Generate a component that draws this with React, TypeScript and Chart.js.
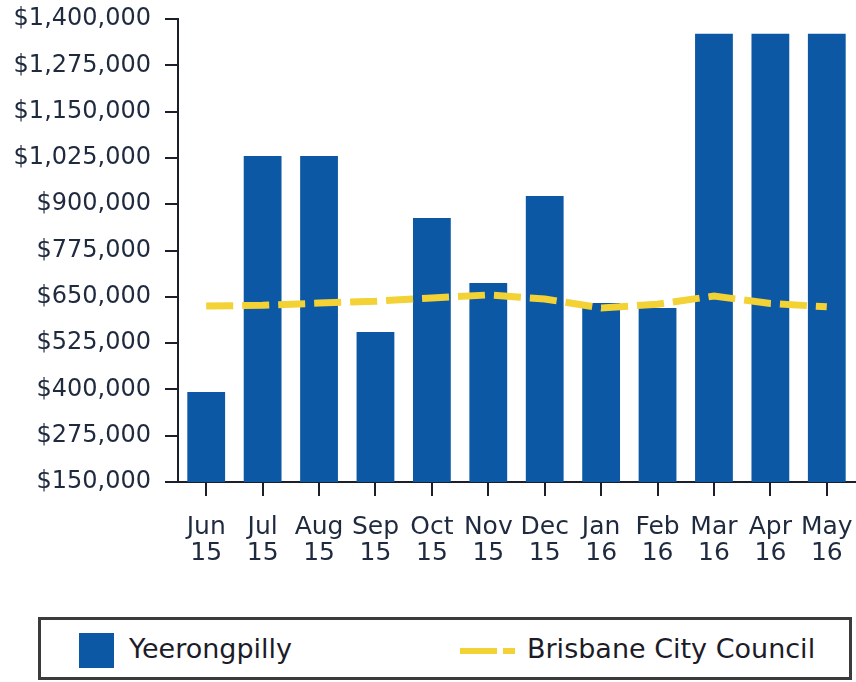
import React, { useEffect, useRef } from "react";
import { Chart, registerables } from "chart.js";

Chart.register(...registerables);

const categories: string[][] = [
  ["Jun", "15"], ["Jul", "15"], ["Aug", "15"], ["Sep", "15"], ["Oct", "15"], ["Nov", "15"],
  ["Dec", "15"], ["Jan", "16"], ["Feb", "16"], ["Mar", "16"], ["Apr", "16"], ["May", "16"],
];
const yeerongpilly: number[] = [
  393000, 1030000, 1030000, 555000, 863000, 687000, 922000, 633000, 620000, 1360000, 1360000, 1360000,
];
const brisbane: number[] = [
  625000, 627000, 633000, 638000, 647000, 655000, 644000, 620000, 630000, 652000, 632000, 623000,
];
const yMin = 150000;
const yMax = 1400000;
const yStep = 125000;

const BAR_COLOR = "#0c58a4";
const LINE_COLOR = "#f2d234";
const TEXT_COLOR = "#1f2a3f";
const AXIS_COLOR = "#1a1f2b";
const FONT = "'DejaVu Sans', sans-serif";

export default function App() {
  const ref = useRef<HTMLCanvasElement | null>(null);
  useEffect(() => {
    if (!ref.current) return;
    const chart = new Chart(ref.current, {
      type: "bar",
      data: {
        labels: categories,
        datasets: [
          {
            type: "line",
            label: "Brisbane City Council",
            data: brisbane,
            borderColor: LINE_COLOR,
            backgroundColor: LINE_COLOR,
            borderWidth: 7,
            borderDash: [27, 9],
            pointRadius: 0,
            tension: 0,
            order: 0,
          } as any,
          {
            type: "bar",
            label: "Yeerongpilly",
            data: yeerongpilly,
            backgroundColor: BAR_COLOR,
            borderWidth: 0,
            categoryPercentage: 1,
            barPercentage: 0.67,
            order: 1,
          } as any,
        ],
      },
      options: {
        animation: false,
        responsive: false,
        maintainAspectRatio: false,
        layout: { padding: { top: 19, right: 1, bottom: 0, left: 0 } },
        plugins: { legend: { display: false }, tooltip: { enabled: false } },
        scales: {
          x: {
            offset: true,
            grid: {
              offset: false,
              drawOnChartArea: false,
              drawTicks: true,
              tickLength: 14,
              color: AXIS_COLOR,
              lineWidth: 2,
            },
            border: { display: true, color: AXIS_COLOR, width: 2 },
            ticks: {
              color: TEXT_COLOR,
              font: { family: FONT, size: 25, lineHeight: 1.04 },
              padding: 18,
              maxRotation: 0,
              autoSkip: false,
            },
            afterFit: (s: any) => {
              s.height = 128;
              s.paddingLeft = 0;
              s.paddingRight = 0;
            },
          },
          y: {
            min: yMin,
            max: yMax,
            grid: {
              drawOnChartArea: false,
              drawTicks: true,
              tickLength: 13,
              color: AXIS_COLOR,
              lineWidth: 2,
            },
            border: { display: true, color: AXIS_COLOR, width: 2 },
            ticks: {
              stepSize: yStep,
              color: TEXT_COLOR,
              font: { family: FONT, size: 24 },
              padding: 14,
              callback: (v: any) => "$" + Number(v).toLocaleString("en-US"),
            },
            afterFit: (s: any) => {
              s.width = 178;
              s.paddingTop = 0;
              s.paddingBottom = 0;
            },
          },
        },
      },
    });
    return () => chart.destroy();
  }, []);

  return (
    <div style={{ position: "absolute", left: 0, top: 0, width: 856, height: 682, background: "#fff", overflow: "hidden" }}>
      <canvas ref={ref} width={856} height={610} style={{ position: "absolute", left: 0, top: 0, width: 856, height: 610 }} />
      <div
        style={{
          position: "absolute",
          left: 38,
          top: 617,
          width: 814,
          height: 63,
          boxSizing: "border-box",
          border: "3px solid #3b3b3b",
          fontFamily: FONT,
          fontSize: 27,
          color: "#1c1c28",
        }}
      >
        <div style={{ position: "absolute", left: 38, top: 13, width: 35, height: 35, background: BAR_COLOR }} />
        <div style={{ position: "absolute", left: 88, top: 12, lineHeight: "34px", whiteSpace: "nowrap" }}>Yeerongpilly</div>
        <div style={{ position: "absolute", left: 419, top: 28, width: 37, height: 6, background: LINE_COLOR }} />
        <div style={{ position: "absolute", left: 462, top: 28, width: 12, height: 6, background: LINE_COLOR }} />
        <div style={{ position: "absolute", left: 486, top: 12, lineHeight: "34px", whiteSpace: "nowrap" }}>Brisbane City Council</div>
      </div>
    </div>
  );
}
